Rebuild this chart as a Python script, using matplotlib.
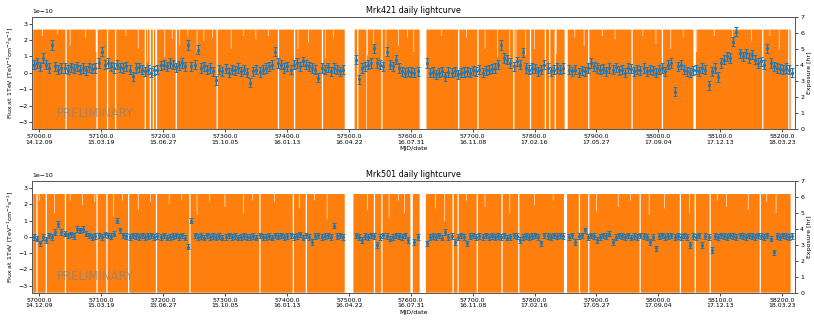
import numpy as np
import matplotlib
matplotlib.use('Agg')
import matplotlib.pyplot as plt


# daily flux points (5-day sampling), units of 1e-10 TeV^-1 cm^-2 s^-1
flux_mjd = np.arange(56991, 58217, 5)

mrk421_flux = [
    0.5, 0.6, 0.4, 0.9, 0.5, 0.3, 1.7, 0.4, 0.2, 0.3,
    0.3, 0.2, 0.35, 0.25, 0.4, 0.2, 0.3, 0.15, 0.35, 0.25,
    0.3, 0.6, 1.3, 0.5, 0.6, 0.4, 0.3, 0.5, 0.35, 0.3,
    0.4, 0.2, -0.2, 0.3, 0.35, 0.2, 0.1, 0.2, 0.0, 0.15,
    0.2, 0.45, 0.5, 0.4, 0.6, 0.5, 0.35, 0.45, 0.6, 0.4,
    1.7, 0.4, 0.5, 1.4, 0.3, 0.4, 0.2, 0.3, 0.1, -0.45,
    0.2, 0.1, 0.25, 0.0, 0.2, 0.15, 0.3, 0.1, 0.2, 0.0,
    -0.6, 0.1, 0.2, 0.05, 0.2, 0.3, 0.4, 0.5, 1.3, 0.6,
    0.5, 0.3, 0.4, 0.2, 0.5, 0.6, 0.4, 0.7, 0.5, 0.4,
    0.3, 0.2, -0.3, 0.3, 0.2, 0.35, 0.1, 0.3, 0.2, 0.1,
    0.2, np.nan, np.nan, np.nan, 0.8, -0.4, 0.3, 0.4, 0.5, 0.6,
    1.5, 0.6, 0.5, 0.4, 1.3, 0.5, 0.4, 0.8, 0.3, 0.1,
    0.0, 0.1, 0.05, 0.0, 0.1, np.nan, np.nan, 0.6, 0.0, 0.05,
    -0.1, 0.0, 0.1, -0.2, 0.05, 0.0, 0.1, -0.1, 0.0, 0.05,
    0.1, 0.0, 0.15, 0.1, 0.2, 0.0, 0.15, 0.2, 0.25, 0.3,
    0.5, 1.7, 0.9, 0.8, 0.6, 0.4, 0.7, 0.5, 1.25, 0.3,
    0.2, 0.3, 0.25, 0.1, 0.2, 0.5, 0.3, 0.1, 0.2, 0.3,
    0.2, 0.3, np.nan, 0.2, 0.1, 0.2, 0.0, 0.15, 0.1, 0.3,
    0.6, 0.4, 0.3, 0.2, 0.25, 0.1, 0.3, 0.2, 0.35, 0.15,
    0.2, 0.0, 0.3, 0.25, 0.1, 0.2, 0.15, 0.3, 0.1, 0.2,
    0.15, 0.0, 0.2, 0.3, 0.1, 0.5, 0.6, -1.15, 0.4, 0.5,
    0.2, 0.1, 0.0, 0.15, 0.2, 0.1, 0.3, 0.2, -0.75, 0.1,
    0.3, -0.25, 0.6, 0.8, 1.0, 0.9, 1.9, 2.5, 1.2, 1.0,
    1.2, 0.9, 1.1, 0.8, 0.6, 0.7, 0.5, 1.5, 0.6, 0.4,
    0.3, 0.25, 0.2, 0.3, 0.2, 0.0,
]

mrk501_flux = [
    0.0, -0.1, -0.4, 0.0, -0.2, 0.1, 0.0, 0.3, 0.8, 0.3,
    0.2, 0.1, 0.15, 0.05, 0.5, 0.4, 0.5, 0.2, 0.1, 0.0,
    0.05, 0.1, 0.0, 0.15, 0.1, 0.05, 0.2, 1.0, 0.4, 0.1,
    0.05, 0.0, 0.1, 0.05, 0.0, 0.1, 0.0, 0.05, 0.1, 0.0,
    0.05, 0.0, 0.1, -0.05, 0.0, 0.05, 0.1, 0.0, 0.1, -0.05,
    -0.6, 1.0, 0.1, 0.0, 0.05, -0.05, 0.1, 0.0, 0.05, 0.0,
    0.05, -0.05, 0.0, 0.1, 0.0, 0.05, -0.05, 0.0, 0.05, 0.0,
    0.0, 0.05, -0.05, 0.1, 0.0, 0.0, 0.05, -0.05, 0.1, 0.05,
    0.1, 0.0, 0.05, 0.1, 0.0, 0.05, 0.15, -0.05, 0.1, 0.0,
    -0.3, 0.05, 0.1, 0.0, 0.05, 0.1, 0.0, 0.7, 0.05, 0.1,
    0.0, np.nan, np.nan, np.nan, 0.1, 0.0, -0.2, 0.05, 0.0, 0.1,
    0.05, -0.5, 0.0, 0.1, 0.05, -0.1, 0.0, 0.1, 0.05, 0.0,
    0.1, -0.2, np.nan, -0.3, 0.0, np.nan, np.nan, -0.4, 0.0, 0.05,
    0.0, 0.1, -0.05, 0.3, 0.0, 0.05, -0.3, 0.0, 0.1, 0.0,
    -0.4, 0.05, 0.1, 0.0, 0.05, 0.0, 0.1, 0.0, 0.05, 0.0,
    0.05, 0.0, 0.1, -0.05, 0.0, 0.1, 0.05, -0.2, 0.0, 0.05,
    0.0, 0.05, 0.1, 0.0, -0.4, 0.1, 0.05, 0.0, 0.1, 0.05,
    0.1, 0.05, np.nan, 0.0, 0.1, -0.3, 0.05, 0.1, 0.4, 0.0,
    0.1, 0.05, -0.2, 0.0, 0.1, 0.05, 0.2, -0.3, 0.0, 0.1,
    0.05, 0.0, 0.1, -0.05, 0.05, 0.0, 0.1, 0.05, 0.0, -0.3,
    0.0, -0.7, 0.05, 0.1, 0.0, 0.05, 0.1, 0.0, 0.05, 0.0,
    0.1, 0.0, -0.5, 0.05, 0.0, 0.1, -0.5, 0.05, 0.0, -0.8,
    0.05, 0.0, 0.1, 0.05, 0.0, 0.1, 0.05, 0.0, 0.1, 0.05,
    0.0, 0.1, 0.05, 0.0, 0.1, 0.05, 0.0, 0.1, -0.1, -0.95,
    0.05, 0.0, 0.1, 0.05, 0.0, 0.05,
]

mrk421_err = 0.28
mrk501_err = 0.17

# exposure: full transit hours, days with no data, days with partial exposure
exp_first, exp_last = 56991, 58213
full_transit = 6.2

mrk421_gaps = [(57043, 57044), (57093, 57094), (57110, 57111), (57123, 57124),
               (57171, 57172), (57179, 57180), (57184, 57185), (57189, 57190),
               (57221, 57222), (57287, 57288), (57386, 57387), (57412, 57413),
               (57457, 57458), (57494, 57509), (57514, 57515), (57529, 57530),
               (57553, 57554), (57615, 57625), (57677, 57678), (57708, 57709),
               (57766, 57767), (57793, 57794), (57817, 57818), (57824, 57825),
               (57833, 57834), (57849, 57853), (57887, 57888), (57957, 57958),
               (58006, 58007), (58057, 58060), (58168, 58169), (58210, 58211)]

mrk501_gaps = [(56996, 56997), (57011, 57012), (57042, 57043), (57093, 57094),
               (57109, 57110), (57144, 57145), (57189, 57190), (57243, 57244),
               (57356, 57357), (57410, 57411), (57431, 57432), (57494, 57507),
               (57541, 57542), (57553, 57554), (57600, 57603), (57615, 57624),
               (57668, 57669), (57676, 57677), (57707, 57708), (57747, 57748),
               (57774, 57775), (57848, 57852), (57872, 57873), (57887, 57888),
               (57970, 57971), (58035, 58036), (58059, 58060), (58083, 58084),
               (58164, 58165)]

mrk421_partial = {57005: 5.8, 57030: 5.9, 57050: 5.2, 57075: 5.7, 57092: 4.8,
                  57140: 5.8, 57160: 5.0, 57175: 4.2, 57188: 3.5, 57203: 4.5,
                  57215: 5.6, 57227: 5.2, 57240: 5.8, 57255: 4.8, 57266: 5.5,
                  57280: 5.7, 57310: 5.0, 57330: 5.8, 57350: 5.6, 57370: 5.8,
                  57418: 5.0, 57435: 5.4, 57462: 4.4, 57475: 5.7, 57530: 4.6,
                  57540: 5.3, 57560: 4.5, 57580: 5.2, 57595: 5.7, 57605: 4.8,
                  57650: 5.8, 57690: 5.7, 57720: 5.0, 57740: 4.5, 57760: 4.2,
                  57770: 4.0, 57785: 4.6, 57800: 5.0, 57835: 4.7, 57865: 5.7,
                  57880: 5.2, 57910: 5.8, 57930: 5.6, 57975: 5.8, 57996: 5.3,
                  58020: 5.0, 58040: 5.7, 58062: 4.8, 58090: 5.8, 58120: 5.7,
                  58150: 5.5, 58180: 5.8, 58195: 5.0}

mrk501_partial = {57000: 5.8, 57025: 5.0, 57050: 5.8, 57070: 5.5, 57090: 5.7,
                  57120: 4.8, 57135: 5.8, 57160: 5.2, 57180: 5.7, 57210: 5.6,
                  57230: 5.8, 57255: 4.9, 57275: 5.7, 57300: 5.4, 57330: 5.0,
                  57345: 5.8, 57380: 5.7, 57420: 5.3, 57445: 5.8, 57465: 4.6,
                  57530: 5.2, 57565: 4.7, 57580: 5.8, 57590: 5.0, 57640: 5.3,
                  57655: 4.5, 57690: 5.8, 57720: 5.4, 57760: 5.0, 57800: 5.5,
                  57830: 5.8, 57900: 5.1, 57935: 5.4, 57955: 5.8, 57985: 4.9,
                  58010: 5.3, 58050: 5.0, 58095: 5.8, 58110: 5.4, 58145: 5.2,
                  58175: 5.7, 58190: 5.0}

tick_mjd = [57000, 57100, 57200, 57300, 57400, 57500, 57600,
            57700, 57800, 57900, 58000, 58100, 58200]
tick_dates = ['14.12.09', '15.03.19', '15.06.27', '15.10.05', '16.01.13',
              '16.04.22', '16.07.31', '16.11.08', '17.02.16', '17.05.27',
              '17.09.04', '17.12.13', '18.03.23']

sources = ['Mrk421', 'Mrk501']


def exposure_hours(gaps, partial):
    days = np.arange(exp_first, exp_last + 1)
    hours = np.full(len(days), full_transit)
    for a, b in gaps:
        hours[(days >= a) & (days <= b)] = 0.0
    for d, h in partial.items():
        hours[days == d] = h
    return days, hours


def draw_panel(ax, name, flux, err, gaps, partial):
    ax_exp = ax.twinx()
    days, hours = exposure_hours(gaps, partial)
    edges = np.append(days, days[-1] + 1) - 0.5
    ax_exp.stairs(hours, edges, fill=True, color='#ff7f0e', linewidth=0)
    ax_exp.set_ylim(0, 7)
    ax_exp.set_ylabel('Exposure [hr]', fontsize=4.5, labelpad=2)
    ax_exp.tick_params(labelsize=4.5, length=2, width=0.5, pad=1.5)

    ax.set_zorder(ax_exp.get_zorder() + 1)
    ax.patch.set_visible(False)

    f = np.array(flux) * 1e-10
    ax.errorbar(flux_mjd, f, yerr=err * 1e-10, fmt='.', color='#1f77b4',
                markersize=2.5, elinewidth=1.0, capsize=1.3, capthick=0.7)
    ax.set_xlim(56989, 58221)
    ax.set_ylim(-3.43e-10, 3.42e-10)
    ax.set_yticks(np.arange(-3, 4) * 1e-10)
    ax.set_xticks(tick_mjd)
    ax.set_xticklabels([f'{m:.1f}\n{d}' for m, d in zip(tick_mjd, tick_dates)])
    ax.tick_params(labelsize=4.5, length=2, width=0.5, pad=1.5)
    ax.yaxis.get_offset_text().set_fontsize(4.5)
    ax.set_ylabel('Flux at 1TeV [TeV$^{-1}$cm$^{-2}$s$^{-1}$]', fontsize=4.5, labelpad=2)
    ax.set_xlabel('MJD/date', fontsize=4.5, labelpad=1)
    ax.set_title(f'{name} daily lightcurve', fontsize=5.8, pad=3)
    ax.text(57029, -2.45e-10, 'PRELIMINARY', fontsize=8.5, color='gray',
            alpha=0.7, va='center')
    for a in (ax, ax_exp):
        for s in a.spines.values():
            s.set_linewidth(0.6)
            s.set_color('#555555')


fig = plt.figure(figsize=(8.14, 3.22), dpi=100)
ax1 = fig.add_axes([0.0397, 0.599, 0.9373, 0.349])
ax2 = fig.add_axes([0.0397, 0.091, 0.9373, 0.346])

draw_panel(ax1, sources[0], mrk421_flux, mrk421_err, mrk421_gaps, mrk421_partial)
draw_panel(ax2, sources[1], mrk501_flux, mrk501_err, mrk501_gaps, mrk501_partial)

fig.savefig('out.png', dpi=100)
